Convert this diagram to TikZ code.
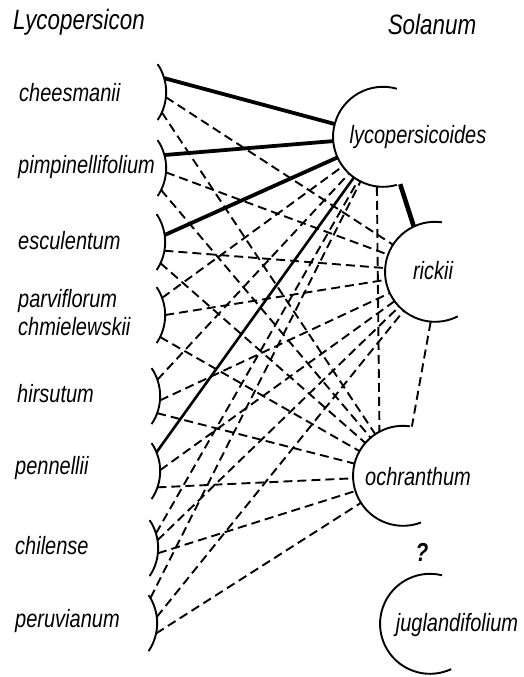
\documentclass[tikz,border=0pt]{standalone}
\usepackage{fontspec}
\newfontfamily\labfont{Liberation Sans}[FakeStretch=0.8]
\usepackage{tikz}
\usetikzlibrary{positioning}

\begin{document}
\begin{tikzpicture}[x=1pt, y=1pt,
    sp/.style={circle, minimum size=100pt, inner sep=0pt},
    spname/.style={font=\labfont\itshape\fontsize{25}{28}\selectfont, inner sep=0pt},
    genus/.style={font=\labfont\itshape\fontsize{28}{32}\selectfont, inner sep=0pt},
    rim/.style={line width=1.9pt},
    weak/.style={line width=1.9pt, dash pattern=on 9pt off 5pt},
    medium/.style={line width=2.6pt},
    strong/.style={line width=3.8pt}
]
\useasboundingbox (0,0) rectangle (524,-677);

% Genus headings
\node[genus] (lycgen) at (79,-22) {Lycopersicon};
\node[genus] (solgen) at (432,-24) {Solanum};

% Lycopersicon species
\node[sp] (ches) at (116,-92) {};
\node[sp] (pimp) at (116,-168) {};
\node[sp] (escu) at (115,-242) {};
\node[sp] (parv) at (115,-315) {};
\node[sp] (hirs) at (110,-396) {};
\node[sp] (penn) at (110,-471) {};
\node[sp] (chil) at (108,-548) {};
\node[sp] (peru) at (107,-623) {};

\node[spname, anchor=west] (ches-txt) at (19,-93) {cheesmanii};
\node[spname, anchor=west] (pimp-txt) at (18,-167) {pimpinellifolium};
\node[spname, anchor=west] (escu-txt) at (18,-241) {esculentum};
\node[spname, anchor=west, align=left] (parv-txt) at (18,-313) {parviflorum\\chmielewskii};
\node[spname, anchor=west] (hirs-txt) at (17,-394) {hirsutum};
\node[spname, anchor=west] (penn-txt) at (15,-468) {pennellii};
\node[spname, anchor=west] (chil-txt) at (15,-546) {chilense};
\node[spname, anchor=west] (peru-txt) at (15,-621) {peruvianum};

\foreach \s in {ches,pimp,escu,parv,hirs,penn,chil,peru} {
    \draw[rim] (\s.-34) arc[start angle=-34, end angle=34, radius=50];
}

% Solanum species
\node[sp] (lyco) at (383,-137) {};
\node[sp] (rick) at (435,-272) {};
\node[sp] (ochr) at (403,-476) {};
\node[sp] (jugl) at (430,-624) {};

\node[spname] (lyco-txt) at (418,-137) {lycopersicoides};
\node[spname] (rick-txt) at (433,-271) {rickii};
\node[spname] (ochr-txt) at (418,-477) {ochranthum};
\node[spname] (jugl-txt) at (457,-625) {juglandifolium};
\node[font=\labfont\bfseries\itshape\fontsize{26}{30}\selectfont] (query) at (422,-552) {?};

\draw[rim] (lyco.74) arc[start angle=74, end angle=286, radius=50];
\draw[rim] (rick.82) arc[start angle=82, end angle=297, radius=50];
\draw[rim] (ochr.82) arc[start angle=82, end angle=291, radius=50];
\draw[rim] (jugl.76) arc[start angle=76, end angle=295, radius=50];

% Crosses with lycopersicoides
\draw[strong] (ches.16) -- (lyco);
\draw[strong] (pimp.15) -- (lyco);
\draw[strong] (escu.8) -- (lyco);
\draw[weak] (parv.20) -- (lyco);
\draw[weak] (hirs.19) -- (lyco);
\draw[medium] (penn.22) -- (lyco);
\draw[weak] (chil.17) -- (lyco);
\draw[weak] (peru.30) -- (lyco);

% Crosses with rickii
\foreach \s/\a in {ches/-6, pimp/-5, escu/-10, parv/0, hirs/-5, penn/1, chil/9, peru/7} {
    \draw[weak] (\s.\a) -- (rick);
}

% Crosses with ochranthum
\foreach \s/\a in {ches/-24, pimp/-26, escu/-25, parv/-26, hirs/-20, penn/-19, chil/-6, peru/-12} {
    \draw[weak] (\s.\a) -- (ochr);
}

% Solanum among themselves
\draw[strong, line width=4.6pt] (lyco.290) -- (rick.115);
\draw[weak] (lyco.263) -- (ochr.118);
\draw[weak] (rick.265) -- (ochr);

\end{tikzpicture}
\end{document}
